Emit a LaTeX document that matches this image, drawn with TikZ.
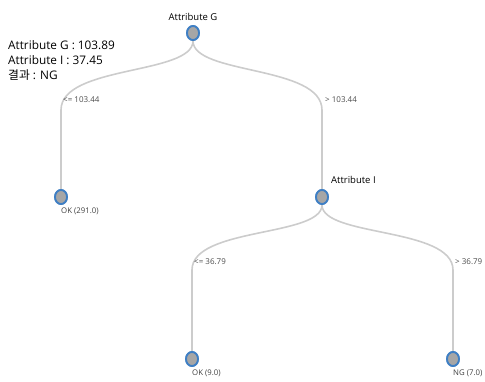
\documentclass[tikz,border=0pt]{standalone}
\usepackage{fontspec}
\setmainfont{Open Sans}
\newfontfamily\kofont{Noto Sans CJK KR}
\usetikzlibrary{shapes.geometric}
\definecolor{nodeblue}{HTML}{3F7FC4}
\definecolor{nodegray}{HTML}{A6A6A6}
\definecolor{linkgray}{HTML}{CCCCCC}
\begin{document}
\begin{tikzpicture}[x=1pt,y=-1pt,
  treenode/.style={ellipse,draw=nodeblue,fill=nodegray,line width=1.8pt,minimum width=12pt,minimum height=14pt,inner sep=0pt},
  link/.style={draw=linkgray,line width=1.6pt},
  edgelab/.style={font=\fontsize{8}{9}\selectfont,text=black!70,inner sep=0pt,anchor=west},
  leaflab/.style={font=\fontsize{7.8}{9}\selectfont,text=black!75,inner sep=0pt,anchor=west},
  attlab/.style={font=\fontsize{9.5}{11}\selectfont,text=black,inner sep=0pt},
  infolab/.style={anchor=west,inner sep=0pt,font=\fontsize{11.8}{13}\selectfont}
]
\useasboundingbox (0,0) rectangle (485,381);
\coordinate (b1) at (61,110);
\coordinate (b2) at (322,110);
\coordinate (b3) at (192,270);
\coordinate (b4) at (453,270);
\path (193,33) node[treenode] (root) {}
      (61,197) node[treenode] (l1) {}
      (322,197) node[treenode] (ai) {}
      (192,359) node[treenode] (l2) {}
      (453,359) node[treenode] (l3) {};
\path[link] (root.south) .. controls (193,75) and (61,65) .. (b1) -- (l1.north);
\path[link] (root.south) .. controls (193,75) and (322,65) .. (b2) -- (ai.north);
\path[link] (ai.south) .. controls (322,237) and (192,227) .. (b3) -- (l2.north);
\path[link] (ai.south) .. controls (322,237) and (453,227) .. (b4) -- (l3.north);
% redraw nodes on top of links
\node[treenode] at (root) {};
\node[treenode] at (l1) {};
\node[treenode] at (ai) {};
\node[treenode] at (l2) {};
\node[treenode] at (l3) {};
% labels
\node[attlab] (tg) at (193,17) {Attribute G};
\node[attlab,anchor=west] (ti) at (331,180) {Attribute I};
\node[edgelab] (e1) at (63,100) {<= 103.44};
\node[edgelab] (e2) at (325,100) {> 103.44};
\node[edgelab] (e3) at (194,262) {<= 36.79};
\node[edgelab] (e4) at (455,262) {> 36.79};
\node[leaflab] (k1) at (61,211) {OK (291.0)};
\node[leaflab] (k2) at (192,373) {OK (9.0)};
\node[leaflab] (k3) at (453,373) {NG (7.0)};
% info
\node[infolab] (i1) at (8,45) {Attribute G : 103.89};
\node[infolab] (i2) at (8,60) {Attribute I : 37.45};
\node[infolab] (i3) at (8,75) {{\kofont 결과} : NG};
\end{tikzpicture}
\end{document}
